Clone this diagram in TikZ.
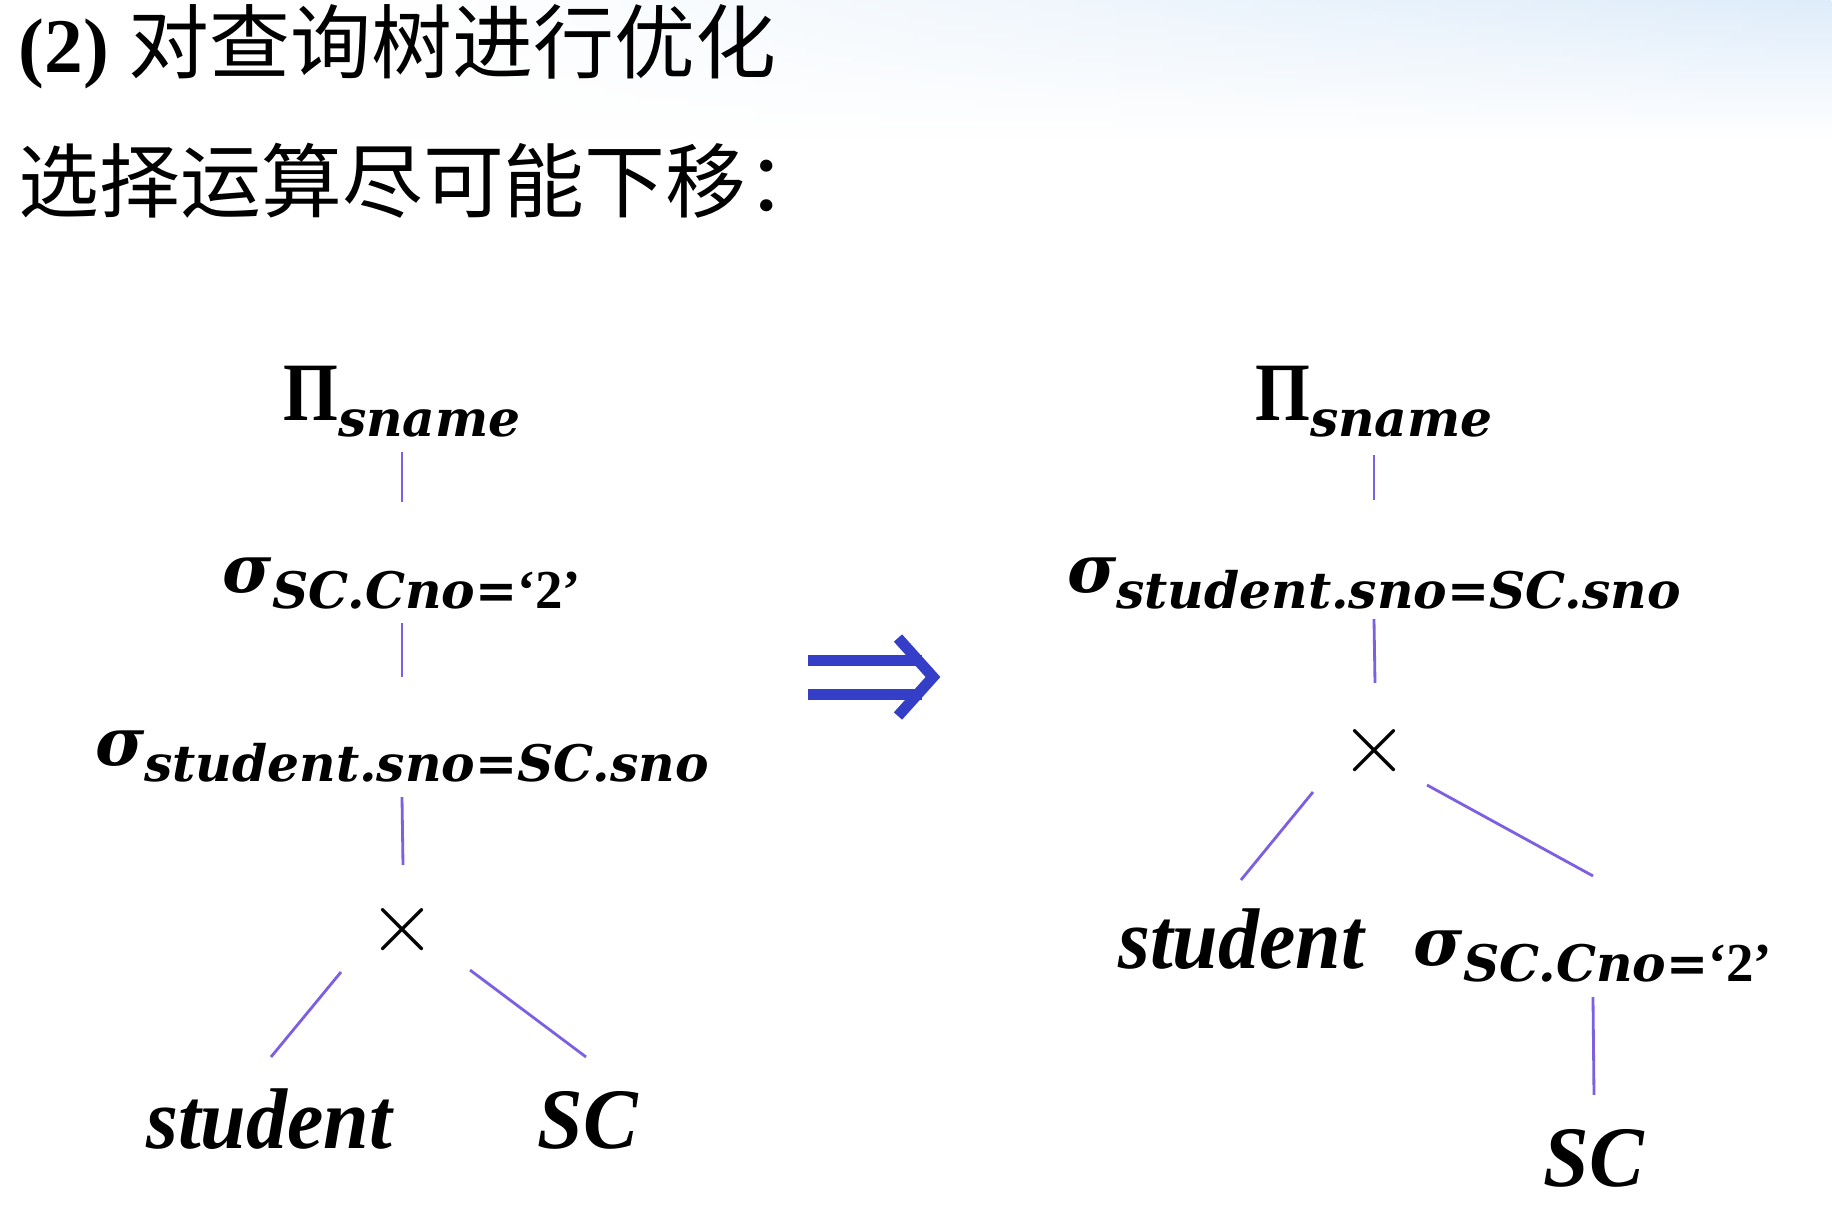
\documentclass[tikz,border=0pt]{standalone}
\usepackage{fontspec}
\usepackage{xcolor}
\usepackage{tikz}
\usetikzlibrary{fadings}

\setmainfont{Liberation Serif}
\newfontfamily\cjkfont{Noto Sans CJK SC}
\newfontfamily\subfont{DejaVu Serif}
\newfontfamily\leaffont{Liberation Serif}[FakeStretch=0.95]
\newfontfamily\pifont{Liberation Serif}[FakeStretch=0.85]

\definecolor{linkcol}{RGB}{125,95,225}
\definecolor{arrowcol}{RGB}{52,62,198}
\definecolor{headblue}{RGB}{222,236,250}

% operator symbols and their subscripts
\newcommand{\opsig}{{\subfont\bfseries\itshape\fontsize{19}{19}\selectfont σ}}
\newcommand{\oppi}{{\pifont\bfseries\fontsize{23.6}{24}\selectfont Π}}
\newcommand{\opsub}[1]{\raisebox{-0.16cm}{\subfont\bfseries\itshape\fontsize{14.3}{15}\selectfont #1}}
\newcommand{\quotetwo}{{\rmfamily\upshape\bfseries\fontsize{15.6}{16}\selectfont ‘2’}}

\tikzfading[name=fadeleft, left color=transparent!100, right color=transparent!0]

\tikzset{
  opnode/.style={anchor=base, inner sep=0pt},
  leafnode/.style={anchor=base, inner sep=0pt, font=\leaffont\bfseries\itshape\fontsize{24.5}{26}\selectfont},
  crossnode/.style={inner sep=0pt, font=\fontsize{27}{27}\selectfont},
  link/.style={draw=linkcol, line width=0.8pt},
  implies/.style={draw=arrowcol, line width=0.11cm}
}

\begin{document}
\begin{tikzpicture}[x=0.01cm, y=-0.01cm]
	% Canvas
	\useasboundingbox (0,0) rectangle (1832,1226);
	\fill[white] (0,0) rectangle (1832,1226);
	\shade[top color=headblue, bottom color=white, path fading=fadeleft] (400,0) rectangle (1832,140);
	
	% Heading
	\node[anchor=base west, inner sep=0pt] (title) at (18,72)
	{{\bfseries\fontsize{22}{26}\selectfont (2)}\hspace{0.2cm}{\cjkfont\fontsize{23}{28}\selectfont 对查询树进行优化}};
	\node[anchor=base west, inner sep=0pt] (rule) at (18,211)
	{\cjkfont\fontsize{23}{28}\selectfont 选择运算尽可能下移：};
	
	% Left tree
	\node[opnode] (lpi) at (402,420) {\oppi\opsub{sname}};
	\node[opnode] (lsel) at (402,592) {\opsig\opsub{SC.Cno=\quotetwo}};
	\node[opnode] (ljoin) at (402,765) {\opsig\opsub{student.sno=SC.sno}};
	\node[crossnode] (lx) at (403,930) {$\times$};
	\node[leafnode] (lstu) at (269,1148) {student};
	\node[leafnode] (lsc) at (588,1148) {SC};
	
	\draw[link] ([yshift=-0.32cm]lpi.base) -- ([yshift=0.90cm]lsel.base);
	\draw[link] ([yshift=-0.31cm]lsel.base) -- ([yshift=0.88cm]ljoin.base);
	\draw[link] ([yshift=-0.32cm]ljoin.base) -- ([yshift=0.65cm]lx.center);
	\draw[link] ([xshift=-0.62cm,yshift=-0.42cm]lx.center) -- ([xshift=0.02cm,yshift=0.91cm]lstu.base);
	\draw[link] ([xshift=0.67cm,yshift=-0.40cm]lx.center) -- ([xshift=-0.02cm,yshift=0.91cm]lsc.base);
	
	% Rewrite arrow
	\draw[implies] (808,660) -- (922,660) (808,694) -- (922,694);
	\draw[implies, line join=miter] (898,638) -- (933,677) -- (898,716);
	
	% Right tree
	\node[opnode] (rpi) at (1374,420) {\oppi\opsub{sname}};
	\node[opnode] (rjoin) at (1374,592) {\opsig\opsub{student.sno=SC.sno}};
	\node[crossnode] (rx) at (1375,751) {$\times$};
	\node[leafnode] (rstu) at (1241,968) {student};
	\node[opnode] (rsel) at (1593,965) {\opsig\opsub{SC.Cno=\quotetwo}};
	\node[leafnode] (rsc) at (1594,1186) {SC};
	
	\draw[link] ([yshift=-0.35cm]rpi.base) -- ([yshift=0.92cm]rjoin.base);
	\draw[link] ([yshift=-0.27cm]rjoin.base) -- ([yshift=0.68cm]rx.center);
	\draw[link] ([xshift=-0.62cm,yshift=-0.41cm]rx.center) -- ([yshift=0.88cm]rstu.base);
	\draw[link] ([xshift=0.52cm,yshift=-0.34cm]rx.center) -- ([yshift=0.89cm]rsel.base);
	\draw[link] ([yshift=-0.32cm]rsel.base) -- ([yshift=0.91cm]rsc.base);
\end{tikzpicture}
\end{document}
